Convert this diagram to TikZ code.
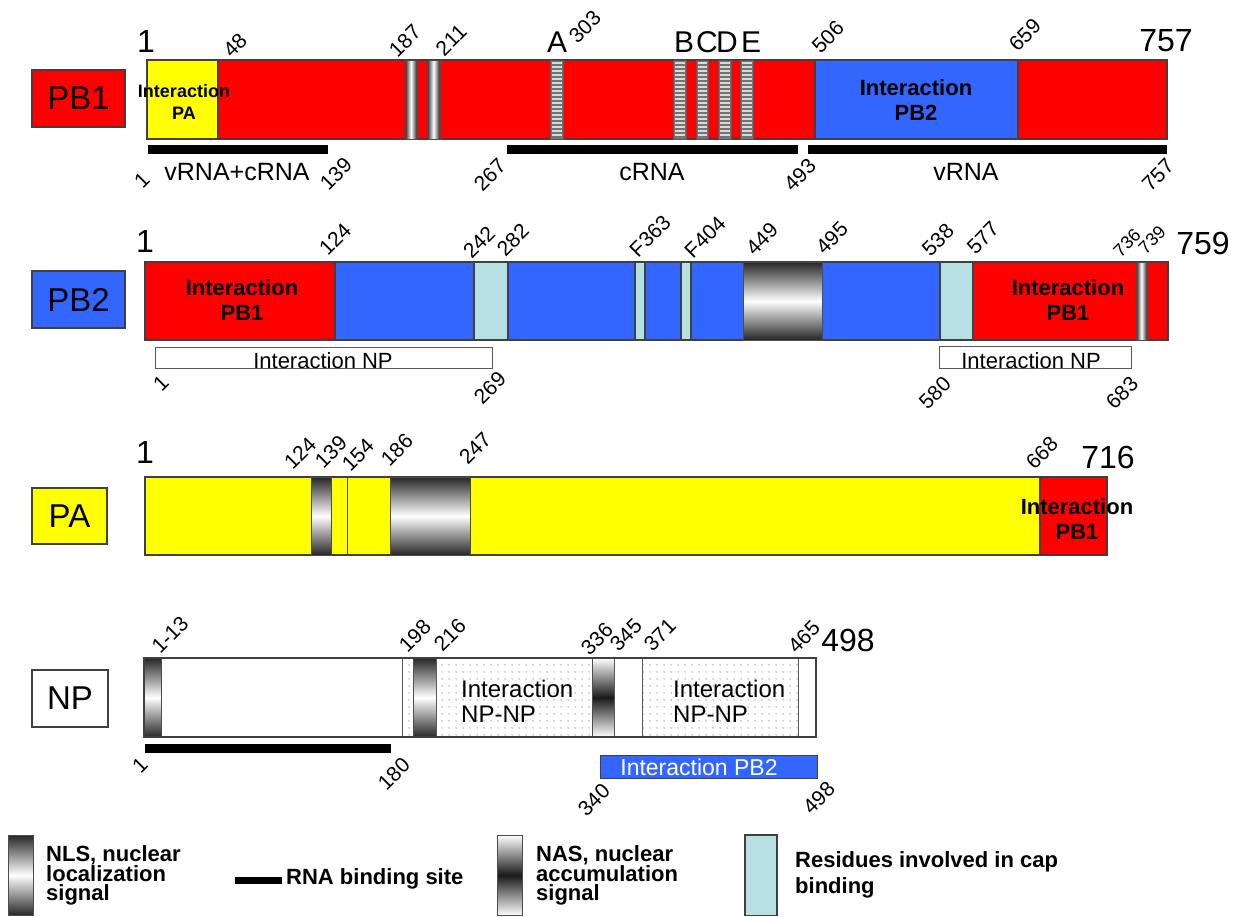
\documentclass[tikz,border=0pt]{standalone}
\usepackage{fontspec}
\setmainfont{Liberation Sans}
\usetikzlibrary{patterns.meta}
\definecolor{pbred}{RGB}{255,0,0}
\definecolor{pbblue}{RGB}{51,102,255}
\definecolor{payel}{RGB}{255,255,0}
\definecolor{capc}{RGB}{183,224,227}
\newcommand\fsz[1]{\fontsize{#1}{#1}\selectfont}
\begin{document}
\begin{tikzpicture}[x=1pt,y=-1pt,
 bx/.style={draw=black!75, line width=1.2pt},
 thinbx/.style={draw=black!65, line width=0.9pt},
 num/.style={font=\fsz{21}, rotate=45, inner sep=0pt},
 smallnum/.style={font=\fsz{18}, rotate=45, inner sep=0pt},
 big/.style={font=\fsz{32}, inner sep=0pt},
 lett/.style={font=\fsz{30}, inner sep=0pt},
 protlab/.style={font=\fsz{33}, inner sep=0pt},
 intx/.style={font=\bfseries\fontsize{22}{25}\selectfont, align=center, inner sep=0pt},
 npnp/.style={font=\fontsize{24}{25}\selectfont, align=left, inner sep=0pt, anchor=west},
 rnatxt/.style={font=\fsz{25}, inner sep=0pt},
 boxtxt/.style={font=\fsz{22}, inner sep=0pt},
 legtxt/.style={font=\bfseries\fontsize{22}{19}\selectfont, align=left, inner sep=0pt, anchor=north west},
 vgrad/.style={top color=black!85, bottom color=black!85, middle color=white},
 hgrad/.style={left color=black!85, right color=black!85, middle color=white},
 nasgrad/.style={top color=white, bottom color=white, middle color=black!90},
 dotfill/.style={pattern={Dots[radius=0.6pt,distance=6.5pt]}, pattern color=black!70},
 rnabar/.style={fill=black}
]
\useasboundingbox[fill=white] (0,0) rectangle (1242,916);

% ================= PB1 =================
\draw[bx, fill=pbred] (32,70) rectangle (125,127);
\node[protlab] (lPB1) at (78.5,98.5) {PB1};
\draw[bx, fill=pbred] (147,60) rectangle (1167,139);
\draw[bx, fill=payel] (147,60) rectangle (218,139);
\draw[bx, fill=pbblue] (815,60) rectangle (1018,139);
\path[hgrad, draw=black!70, line width=0.8pt] (405,60) rectangle (417,139);
\path[hgrad, draw=black!70, line width=0.8pt] (427,60) rectangle (440,139);
\foreach \a/\b in {550/563,673/686,696/708,718/731,740/753}{
  \draw[draw=black!65, fill=black!55, line width=0.8pt] (\a,60) rectangle (\b,139);
  \foreach \y in {63,67,...,136} \draw[white!85!black, line width=1.6pt] (\a+1.5,\y) -- (\b-1.5,\y);
}
\node[intx, font=\bfseries\fontsize{18}{22}\selectfont] (iPA) at (184,102) {Interaction\\PA};
\node[intx] (iPB2) at (916,100) {Interaction\\PB2};
\node[big] (p1s) at (146,41) {1};
\node[num] (p1a) at (235,45) {48};
\node[num] (p1b) at (405,41) {187};
\node[num] (p1c) at (451,40) {211};
\node[lett] (lA) at (557,42) {A};
\node[num] (p1d) at (585,27) {303};
\node[lett] (lB) at (684,42) {B};
\node[lett] (lC) at (707,42) {C};
\node[lett] (lD) at (727,42) {D};
\node[lett] (lE) at (751,42) {E};
\node[num] (p1e) at (828,37) {506};
\node[num] (p1f) at (1025,35) {659};
\node[big] (p1end) at (1166,41) {757};
\fill[rnabar] (148,145) rectangle (328,154);
\fill[rnabar] (507,145) rectangle (798,154);
\fill[rnabar] (808,145) rectangle (1167,154);
\node[num] (r1a) at (142,180) {1};
\node[rnatxt] (r1t) at (237,172) {vRNA+cRNA};
\node[num] (r1b) at (336,174) {139};
\node[num] (r1c) at (490,175) {267};
\node[rnatxt] (r2t) at (652,172) {cRNA};
\node[num] (r1d) at (800,175) {493};
\node[rnatxt] (r3t) at (966,172) {vRNA};
\node[num] (r1e) at (1158,175) {757};

% ================= PB2 =================
\draw[bx, fill=pbblue] (32,271) rectangle (125,328);
\node[protlab] (lPB2) at (78.5,299.5) {PB2};
\draw[bx, fill=pbblue] (145,262) rectangle (1168,340);
\draw[bx, fill=pbred] (145,262) rectangle (335,340);
\draw[bx, fill=capc] (474,262) rectangle (508,340);
\draw[bx, fill=capc] (635,262) rectangle (645,340);
\draw[bx, fill=capc] (681,262) rectangle (691,340);
\path[vgrad, draw=black!70, line width=1pt] (743,262) rectangle (822,340);
\draw[bx, fill=capc] (940,262) rectangle (973,340);
\draw[bx, fill=pbred] (973,262) rectangle (1168,340);
\path[hgrad, draw=black!70, line width=0.8pt] (1136,262) rectangle (1147,340);
\node[intx] (iPB1a) at (242,300) {Interaction\\PB1};
\node[intx] (iPB1b) at (1068,300) {Interaction\\PB1};
\node[big] (p2s) at (145,241) {1};
\node[num] (p2a) at (335,239) {124};
\node[num] (p2b) at (479,242) {242};
\node[num] (p2c) at (513,240) {282};
\node[num] (p2d) at (650,236) {F363};
\node[num] (p2e) at (705,237) {F404};
\node[num] (p2f) at (762,239) {449};
\node[num] (p2g) at (832,238) {495};
\node[num] (p2h) at (938,240) {538};
\node[num] (p2i) at (983,238) {577};
\node[smallnum] (p2j) at (1127,243) {736};
\node[smallnum] (p2k) at (1152,240) {739};
\node[big] (p2end) at (1203,243) {759};
\draw[thinbx, fill=white] (155,347) rectangle (492,368);
\node[boxtxt] (np1) at (323,361) {Interaction NP};
\draw[thinbx, fill=white] (939,346) rectangle (1131,368);
\node[boxtxt] (np2) at (1031,361) {Interaction NP};
\node[num] (q2a) at (161,383) {1};
\node[num] (q2b) at (490,388) {269};
\node[num] (q2c) at (935,393) {580};
\node[num] (q2d) at (1122,393) {683};

% ================= PA =================
\draw[bx, fill=payel] (32,488) rectangle (107,544);
\node[protlab] (lPA) at (69.5,516) {PA};
\draw[bx, fill=payel] (145,477) rectangle (1040,555);
\draw[bx, fill=pbred] (1040,477) rectangle (1107,555);
\path[vgrad, draw=black!70, line width=1pt] (311,477) rectangle (331,555);
\draw[draw=black!75, line width=1pt] (347,477) -- (347,555);
\path[vgrad, draw=black!70, line width=1pt] (390,477) rectangle (470,555);
\node[intx] (iPB1c) at (1077,519) {Interaction\\PB1};
\node[big] (p3s) at (145,452) {1};
\node[num] (p3a) at (300,453) {124};
\node[num] (p3b) at (331,452) {139};
\node[num] (p3c) at (358,455) {154};
\node[num] (p3d) at (397,450) {186};
\node[num] (p3e) at (475,448) {247};
\node[num] (p3f) at (1042,453) {668};
\node[big] (p3end) at (1108,457) {716};

% ================= NP =================
\draw[bx, fill=white] (32,670) rectangle (108,727);
\node[protlab] (lNP) at (70,698.5) {NP};
\draw[bx, fill=white] (144,658) rectangle (816,737);
\path[vgrad, draw=black!70, line width=1pt] (144,658) rectangle (161,737);
\path[dotfill] (402,658) rectangle (413,737);
\draw[thinbx] (402,658) rectangle (413,737);
\path[vgrad, draw=black!70, line width=1pt] (413,658) rectangle (436,737);
\path[dotfill] (436,658) rectangle (592,737);
\draw[thinbx] (436,658) rectangle (592,737);
\path[nasgrad, draw=black!70, line width=1pt] (592,658) rectangle (614,737);
\draw[thinbx] (614,658) rectangle (642,737);
\path[dotfill] (642,658) rectangle (798,737);
\draw[thinbx] (642,658) rectangle (798,737);
\draw[bx] (144,658) rectangle (816,737);
\node[npnp] (inp1) at (461,701) {Interaction\\NP-NP};
\node[npnp] (inp2) at (673,701) {Interaction\\NP-NP};
\node[num] (p4a) at (170,635) {1-13};
\node[num] (p4b) at (415,636) {198};
\node[num] (p4c) at (450,635) {216};
\node[num] (p4d) at (597,639) {336};
\node[num] (p4e) at (626,635) {345};
\node[num] (p4f) at (660,635) {371};
\node[num] (p4g) at (804,637) {465};
\node[big] (p4end) at (848,640) {498};
\fill[rnabar] (145,744) rectangle (391,753);
\draw[draw=black!75, line width=1pt, fill=pbblue] (600,755) rectangle (817,778);
\node[boxtxt, text=white, font=\fsz{23}] (ipb2np) at (699,767) {Interaction PB2};
\node[num] (q4a) at (140,765) {1};
\node[num] (q4b) at (394,774) {180};
\node[num] (q4c) at (594,800) {340};
\node[num] (q4d) at (819,798) {498};

% ================= Legend =================
\path[vgrad, draw=black!70, line width=1pt] (8,835) rectangle (33,915.5);
\node[legtxt] (legNLS) at (46,845) {NLS, nuclear\\localization\\signal};
\fill[rnabar] (235,877) rectangle (282,884);
\node[font=\bfseries\fsz{22}, inner sep=0pt, anchor=base west] (legRNA) at (286,884) {RNA binding site};
\path[nasgrad, draw=black!70, line width=1pt] (497,835) rectangle (522,915.5);
\node[legtxt] (legNAS) at (536,845) {NAS, nuclear\\accumulation\\signal};
\draw[bx, fill=capc] (745,835) rectangle (777,915.5);
\node[legtxt, font=\bfseries\fontsize{22}{26}\selectfont] (legCAP) at (795,851) {Residues involved in cap\\binding};
\end{tikzpicture}
\end{document}
